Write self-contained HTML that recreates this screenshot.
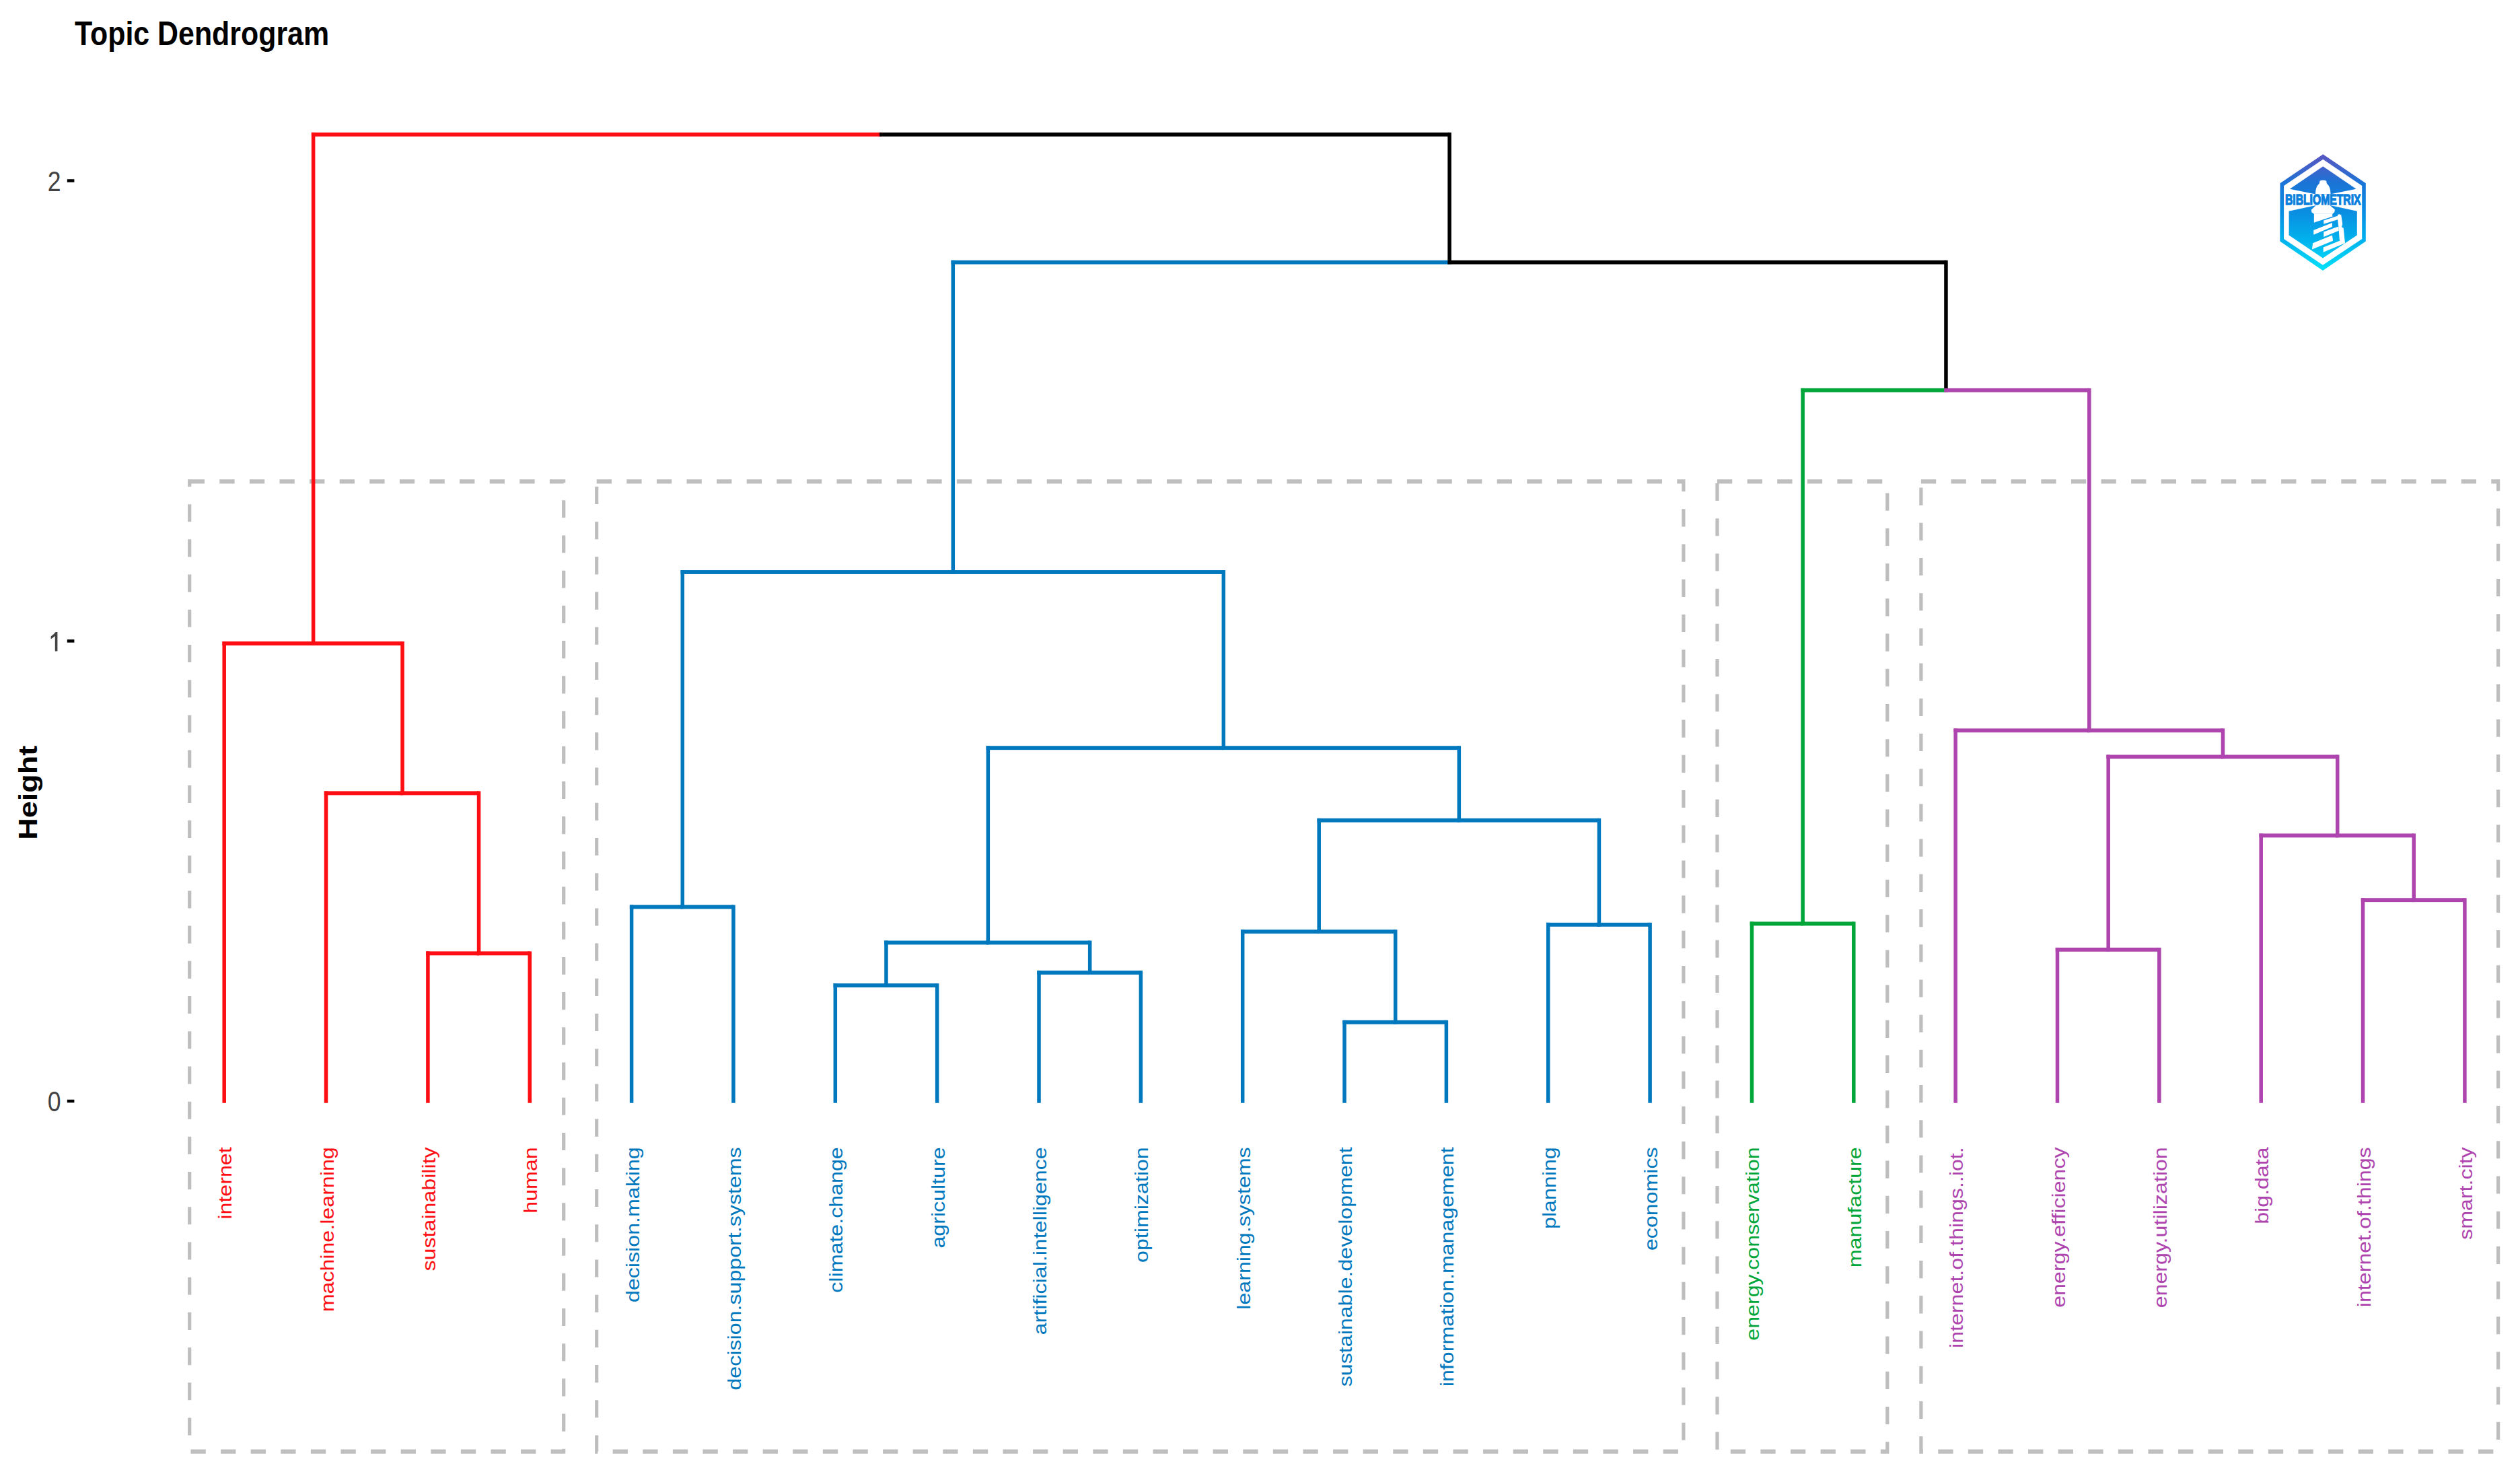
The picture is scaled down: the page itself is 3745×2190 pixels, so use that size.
<!DOCTYPE html><html><head><meta charset="utf-8"><style>html,body{margin:0;padding:0;background:#fff;}svg{display:block;}</style></head><body>
<svg width="3745" height="2190" viewBox="0 0 3745 2190">
<rect x="0" y="0" width="3745" height="2190" fill="#fff"/>
<g transform="scale(1,1.17050)" fill="none" stroke="#BEBEBE" stroke-width="5.2" stroke-dasharray="22.3 22.3">
<rect x="281.7" y="611.19" width="556.0" height="1231.27"/>
<rect x="886.7" y="611.19" width="1615.2" height="1231.27"/>
<rect x="2552.0" y="611.19" width="252.8" height="1231.27"/>
<rect x="2854.9" y="611.19" width="857.7" height="1231.27"/>
</g>
<rect x="462.88" y="196.85" width="5.50" height="761.90" fill="#FE0E12"/>
<rect x="462.88" y="196.85" width="847.00" height="5.90" fill="#FE0E12"/>
<rect x="330.45" y="953.05" width="5.50" height="685.70" fill="#FE0E12"/>
<rect x="330.45" y="953.05" width="135.18" height="5.90" fill="#FE0E12"/>
<rect x="595.31" y="953.05" width="5.50" height="228.10" fill="#FE0E12"/>
<rect x="462.88" y="953.05" width="135.18" height="5.90" fill="#FE0E12"/>
<rect x="481.80" y="1175.45" width="5.50" height="463.30" fill="#FE0E12"/>
<rect x="481.80" y="1175.45" width="116.26" height="5.90" fill="#FE0E12"/>
<rect x="708.83" y="1175.45" width="5.50" height="243.70" fill="#FE0E12"/>
<rect x="595.31" y="1175.45" width="116.26" height="5.90" fill="#FE0E12"/>
<rect x="633.15" y="1413.45" width="5.50" height="225.30" fill="#FE0E12"/>
<rect x="633.15" y="1413.45" width="78.42" height="5.90" fill="#FE0E12"/>
<rect x="784.50" y="1413.45" width="5.50" height="225.30" fill="#FE0E12"/>
<rect x="708.83" y="1413.45" width="78.42" height="5.90" fill="#FE0E12"/>
<rect x="2151.38" y="196.85" width="5.50" height="195.60" fill="#000000"/>
<rect x="1307.13" y="196.85" width="847.00" height="5.90" fill="#000000"/>
<rect x="1413.55" y="386.75" width="5.50" height="466.00" fill="#0078BE"/>
<rect x="1413.55" y="386.75" width="740.58" height="5.90" fill="#0078BE"/>
<rect x="1011.53" y="847.05" width="5.50" height="503.20" fill="#0078BE"/>
<rect x="1011.53" y="847.05" width="404.77" height="5.90" fill="#0078BE"/>
<rect x="935.85" y="1344.55" width="5.50" height="294.20" fill="#0078BE"/>
<rect x="935.85" y="1344.55" width="78.42" height="5.90" fill="#0078BE"/>
<rect x="1087.20" y="1344.55" width="5.50" height="294.20" fill="#0078BE"/>
<rect x="1011.53" y="1344.55" width="78.42" height="5.90" fill="#0078BE"/>
<rect x="1815.57" y="847.05" width="5.50" height="266.90" fill="#0078BE"/>
<rect x="1413.55" y="847.05" width="404.77" height="5.90" fill="#0078BE"/>
<rect x="1465.58" y="1108.25" width="5.50" height="295.00" fill="#0078BE"/>
<rect x="1465.58" y="1108.25" width="352.75" height="5.90" fill="#0078BE"/>
<rect x="1314.23" y="1397.55" width="5.50" height="69.30" fill="#0078BE"/>
<rect x="1314.23" y="1397.55" width="154.10" height="5.90" fill="#0078BE"/>
<rect x="1238.55" y="1461.15" width="5.50" height="177.60" fill="#0078BE"/>
<rect x="1238.55" y="1461.15" width="78.43" height="5.90" fill="#0078BE"/>
<rect x="1389.90" y="1461.15" width="5.50" height="177.60" fill="#0078BE"/>
<rect x="1314.23" y="1461.15" width="78.42" height="5.90" fill="#0078BE"/>
<rect x="1616.93" y="1397.55" width="5.50" height="50.30" fill="#0078BE"/>
<rect x="1465.58" y="1397.55" width="154.10" height="5.90" fill="#0078BE"/>
<rect x="1541.25" y="1442.15" width="5.50" height="196.60" fill="#0078BE"/>
<rect x="1541.25" y="1442.15" width="78.42" height="5.90" fill="#0078BE"/>
<rect x="1692.60" y="1442.15" width="5.50" height="196.60" fill="#0078BE"/>
<rect x="1616.93" y="1442.15" width="78.42" height="5.90" fill="#0078BE"/>
<rect x="2165.57" y="1108.25" width="5.50" height="113.30" fill="#0078BE"/>
<rect x="1815.57" y="1108.25" width="352.75" height="5.90" fill="#0078BE"/>
<rect x="1957.46" y="1215.85" width="5.50" height="171.10" fill="#0078BE"/>
<rect x="1957.46" y="1215.85" width="210.86" height="5.90" fill="#0078BE"/>
<rect x="1843.95" y="1381.25" width="5.50" height="257.50" fill="#0078BE"/>
<rect x="1843.95" y="1381.25" width="116.26" height="5.90" fill="#0078BE"/>
<rect x="2070.98" y="1381.25" width="5.50" height="140.30" fill="#0078BE"/>
<rect x="1957.46" y="1381.25" width="116.26" height="5.90" fill="#0078BE"/>
<rect x="1995.30" y="1515.85" width="5.50" height="122.90" fill="#0078BE"/>
<rect x="1995.30" y="1515.85" width="78.42" height="5.90" fill="#0078BE"/>
<rect x="2146.65" y="1515.85" width="5.50" height="122.90" fill="#0078BE"/>
<rect x="2070.98" y="1515.85" width="78.42" height="5.90" fill="#0078BE"/>
<rect x="2373.68" y="1215.85" width="5.50" height="160.70" fill="#0078BE"/>
<rect x="2165.57" y="1215.85" width="210.86" height="5.90" fill="#0078BE"/>
<rect x="2298.00" y="1370.85" width="5.50" height="267.90" fill="#0078BE"/>
<rect x="2298.00" y="1370.85" width="78.43" height="5.90" fill="#0078BE"/>
<rect x="2449.35" y="1370.85" width="5.50" height="267.90" fill="#0078BE"/>
<rect x="2373.68" y="1370.85" width="78.43" height="5.90" fill="#0078BE"/>
<rect x="2889.21" y="386.75" width="5.50" height="195.80" fill="#000000"/>
<rect x="2151.38" y="386.75" width="740.58" height="5.90" fill="#000000"/>
<rect x="2676.38" y="576.85" width="5.50" height="798.30" fill="#00A63A"/>
<rect x="2676.38" y="576.85" width="215.59" height="5.90" fill="#00A63A"/>
<rect x="2600.70" y="1369.45" width="5.50" height="269.30" fill="#00A63A"/>
<rect x="2600.70" y="1369.45" width="78.42" height="5.90" fill="#00A63A"/>
<rect x="2752.05" y="1369.45" width="5.50" height="269.30" fill="#00A63A"/>
<rect x="2676.38" y="1369.45" width="78.43" height="5.90" fill="#00A63A"/>
<rect x="3102.05" y="576.85" width="5.50" height="511.20" fill="#AE45AE"/>
<rect x="2889.21" y="576.85" width="215.59" height="5.90" fill="#AE45AE"/>
<rect x="2903.40" y="1082.35" width="5.50" height="556.40" fill="#AE45AE"/>
<rect x="2903.40" y="1082.35" width="201.40" height="5.90" fill="#AE45AE"/>
<rect x="3300.69" y="1082.35" width="5.50" height="44.80" fill="#AE45AE"/>
<rect x="3102.05" y="1082.35" width="201.40" height="5.90" fill="#AE45AE"/>
<rect x="3130.43" y="1121.45" width="5.50" height="292.20" fill="#AE45AE"/>
<rect x="3130.43" y="1121.45" width="173.02" height="5.90" fill="#AE45AE"/>
<rect x="3054.75" y="1407.95" width="5.50" height="230.80" fill="#AE45AE"/>
<rect x="3054.75" y="1407.95" width="78.43" height="5.90" fill="#AE45AE"/>
<rect x="3206.10" y="1407.95" width="5.50" height="230.80" fill="#AE45AE"/>
<rect x="3130.43" y="1407.95" width="78.43" height="5.90" fill="#AE45AE"/>
<rect x="3470.96" y="1121.45" width="5.50" height="122.70" fill="#AE45AE"/>
<rect x="3300.69" y="1121.45" width="173.02" height="5.90" fill="#AE45AE"/>
<rect x="3357.45" y="1238.45" width="5.50" height="400.30" fill="#AE45AE"/>
<rect x="3357.45" y="1238.45" width="116.26" height="5.90" fill="#AE45AE"/>
<rect x="3584.48" y="1238.45" width="5.50" height="101.50" fill="#AE45AE"/>
<rect x="3470.96" y="1238.45" width="116.26" height="5.90" fill="#AE45AE"/>
<rect x="3508.80" y="1334.25" width="5.50" height="304.50" fill="#AE45AE"/>
<rect x="3508.80" y="1334.25" width="78.43" height="5.90" fill="#AE45AE"/>
<rect x="3660.15" y="1334.25" width="5.50" height="304.50" fill="#AE45AE"/>
<rect x="3584.48" y="1334.25" width="78.43" height="5.90" fill="#AE45AE"/>
<g transform="scale(1,1.17050)" font-family="Liberation Sans, sans-serif">
<text x="111" y="57.33" font-size="42.9" font-weight="bold" fill="#000">Topic Dendrogram</text>
<text x="90.6" y="242.38" font-size="35.6" fill="#424242" text-anchor="end">2</text>
<rect x="99.8" y="227.47" width="10.6" height="3.84" fill="#000"/>
<rect x="99.8" y="811.75" width="10.6" height="3.84" fill="#000"/>
<text x="90.6" y="1410.68" font-size="35.6" fill="#424242" text-anchor="end">0</text>
<rect x="99.8" y="1395.77" width="10.6" height="3.84" fill="#000"/>
<text transform="translate(55,1006.20) rotate(-90)" font-size="38.4" font-weight="bold" fill="#000" text-anchor="middle">Height</text>
<text transform="translate(344.20,1456.05) rotate(-90)" font-size="27.5" fill="#FE0E12" text-anchor="end">internet</text>
<text transform="translate(495.55,1456.05) rotate(-90)" font-size="27.5" fill="#FE0E12" text-anchor="end">machine.learning</text>
<text transform="translate(646.90,1456.05) rotate(-90)" font-size="27.5" fill="#FE0E12" text-anchor="end">sustainability</text>
<text transform="translate(798.25,1456.05) rotate(-90)" font-size="27.5" fill="#FE0E12" text-anchor="end">human</text>
<text transform="translate(949.60,1456.05) rotate(-90)" font-size="27.5" fill="#0078BE" text-anchor="end">decision.making</text>
<text transform="translate(1100.95,1456.05) rotate(-90)" font-size="27.5" fill="#0078BE" text-anchor="end">decision.support.systems</text>
<text transform="translate(1252.30,1456.05) rotate(-90)" font-size="27.5" fill="#0078BE" text-anchor="end">climate.change</text>
<text transform="translate(1403.65,1456.05) rotate(-90)" font-size="27.5" fill="#0078BE" text-anchor="end">agriculture</text>
<text transform="translate(1555.00,1456.05) rotate(-90)" font-size="27.5" fill="#0078BE" text-anchor="end">artificial.intelligence</text>
<text transform="translate(1706.35,1456.05) rotate(-90)" font-size="27.5" fill="#0078BE" text-anchor="end">optimization</text>
<text transform="translate(1857.70,1456.05) rotate(-90)" font-size="27.5" fill="#0078BE" text-anchor="end">learning.systems</text>
<text transform="translate(2009.05,1456.05) rotate(-90)" font-size="27.5" fill="#0078BE" text-anchor="end">sustainable.development</text>
<text transform="translate(2160.40,1456.05) rotate(-90)" font-size="27.5" fill="#0078BE" text-anchor="end">information.management</text>
<text transform="translate(2311.75,1456.05) rotate(-90)" font-size="27.5" fill="#0078BE" text-anchor="end">planning</text>
<text transform="translate(2463.10,1456.05) rotate(-90)" font-size="27.5" fill="#0078BE" text-anchor="end">economics</text>
<text transform="translate(2614.45,1456.05) rotate(-90)" font-size="27.5" fill="#00A63A" text-anchor="end">energy.conservation</text>
<text transform="translate(2765.80,1456.05) rotate(-90)" font-size="27.5" fill="#00A63A" text-anchor="end">manufacture</text>
<text transform="translate(2917.15,1456.05) rotate(-90)" font-size="27.5" fill="#AE45AE" text-anchor="end">internet.of.things..iot.</text>
<text transform="translate(3068.50,1456.05) rotate(-90)" font-size="27.5" fill="#AE45AE" text-anchor="end">energy.efficiency</text>
<text transform="translate(3219.85,1456.05) rotate(-90)" font-size="27.5" fill="#AE45AE" text-anchor="end">energy.utilization</text>
<text transform="translate(3371.20,1456.05) rotate(-90)" font-size="27.5" fill="#AE45AE" text-anchor="end">big.data</text>
<text transform="translate(3522.55,1456.05) rotate(-90)" font-size="27.5" fill="#AE45AE" text-anchor="end">internet.of.things</text>
<text transform="translate(3673.90,1456.05) rotate(-90)" font-size="27.5" fill="#AE45AE" text-anchor="end">smart.city</text>
</g>
<path fill="#424242" d="M81.8,967.6 L85.4,967.6 L85.4,938.9 L82.6,938.9 Q80,942.5 75.6,945.6 L75.6,949.4 Q79.5,947 81.8,945 Z"/>
<defs>
<linearGradient id="lg" x1="0" y1="229" x2="0" y2="402" gradientUnits="userSpaceOnUse">
<stop offset="0" stop-color="#5A55C0"/>
<stop offset="0.12" stop-color="#3F63CA"/>
<stop offset="0.25" stop-color="#1A74D6"/>
<stop offset="0.5" stop-color="#0A8EE2"/>
<stop offset="0.75" stop-color="#00B4EE"/>
<stop offset="1" stop-color="#00E2F8"/>
</linearGradient>
</defs>
<g fill="url(#lg)">
<path fill-rule="evenodd" d="M3452.3,229.2 L3515.8,272.2 L3515.8,358.6 L3452,401.9 L3388.3,358.6 L3388.5,272.2 Z M3452.3,236.8 L3394.1,276 L3394.1,354.9 L3452,393.7 L3510.2,354.9 L3510.2,276 Z"/>
<path d="M3452.3,247.2 L3501.5,280.7 L3463,288.4 L3441,288.4 L3402.9,280.7 Z"/>
<path d="M3401.6,313.8 L3442,304.9 L3462.8,304.9 L3502.8,313.8 L3502.8,349.6 L3452,383.6 L3401.6,349.6 Z"/>
<path fill="#fff" d="M3442.30,304.52 L3461.91,304.52 L3469.98,311.44 L3469.12,315.47 L3466.23,317.78 L3438.84,317.78 L3435.38,315.47 L3434.80,311.72 Z"/>
<path fill="#fff" d="M3438.84,317.49 L3466.23,317.49 L3466.23,321.47 L3476.33,318.36 L3474.02,319.11 L3438.84,330.76 Z"/>
<path fill="#fff" d="M3476.33,318.36 L3479.21,319.22 L3481.23,332.77 L3480.07,337.39 L3482.67,338.83 L3484.98,361.32 L3476.90,357.28 L3475.17,335.37 L3474.02,326.14 L3474.02,319.11 Z"/>
<path fill="#fff" d="M3453.26,327.58 L3474.02,320.66 L3474.02,326.14 L3453.26,332.77 Z"/>
<path fill="#fff" d="M3438.26,342.00 L3465.95,331.04 L3465.95,337.10 L3438.26,348.63 Z"/>
<path fill="#fff" d="M3453.26,344.60 L3475.17,336.52 L3475.75,342.87 L3453.26,352.09 Z"/>
<path fill="#fff" d="M3437.11,361.32 L3465.95,349.50 L3467.10,357.86 L3435.96,370.55 Z"/>
<path fill="#fff" d="M3452.68,367.38 L3482.67,355.55 L3484.98,361.32 L3452.68,374.87 Z"/>
<path fill="#fff" d="M3447.5,268.8 Q3452.3,266.5 3457.2,268.8 L3457.8,272.5 Q3463.8,278 3463.5,288.2 L3441,288.2 Q3440.8,278 3446.8,272.5 Z"/>
<text x="3396" y="304.4" font-family="Liberation Sans, sans-serif" font-weight="bold" font-size="21.5" textLength="112.5" lengthAdjust="spacingAndGlyphs" fill="#0A80DC" stroke="#0A80DC" stroke-width="1.3">BIBLIOMETRIX</text>
</g>

</svg></body></html>
